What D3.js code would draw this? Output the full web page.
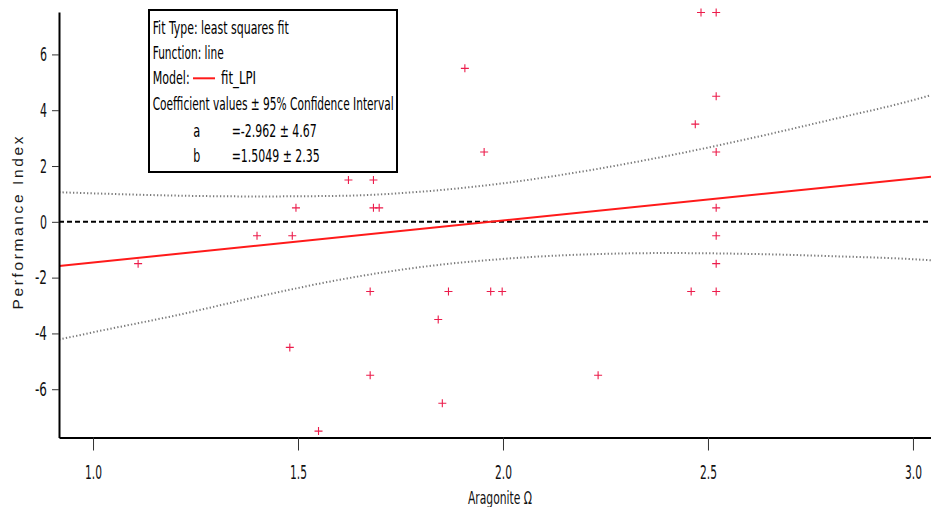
<!DOCTYPE html>
<html>
<head>
<meta charset="utf-8">
<script src="https://cdn.jsdelivr.net/npm/d3@7/dist/d3.min.js"></script>
<style>
  html, body { margin: 0; padding: 0; background: #fff; }
  svg { display: block; }
  .narrow { font-family: "Liberation Sans Narrow", "DejaVu Sans Condensed", "Arial Narrow", "Liberation Sans", sans-serif; }
</style>
</head>
<body>
<svg id="chart" width="931" height="507"></svg>
<script>
// Observations: aragonite saturation state vs. performance index
const aragonite = [1.11, 1.40, 1.486, 1.495, 1.48, 1.55, 1.623, 1.684, 1.684, 1.698,
                   1.676, 1.676, 1.842, 1.852, 1.867, 1.907, 1.954, 1.970, 1.998, 2.232,
                   2.459, 2.469, 2.483, 2.52, 2.52, 2.52, 2.52, 2.52, 2.52, 2.52];
const performance = [-1.5, -0.5, -0.5, 0.5, -4.5, -7.5, 1.5, 1.5, 0.5, 0.5,
                     -2.5, -5.5, -3.5, -6.5, -2.5, 5.5, 2.5, -2.5, -2.5, -5.5,
                     -2.5, 3.5, 7.5, 7.5, 4.5, 2.5, 0.5, -0.5, -1.5, -2.5];

// Least squares fit coefficients (y = a + b·x)
const coefA = -2.962;
const coefB = 1.5049;

// 95% confidence band of the fit
const bandX     = [0.917, 1.0, 1.2, 1.4, 1.6, 1.8, 2.0, 2.2, 2.4, 2.6, 2.8, 3.0, 3.044];
const bandUpper = [1.06, 1.02, 0.94, 0.91, 0.93, 1.08, 1.38, 1.82, 2.36, 2.98, 3.66, 4.36, 4.54];
const bandLower = [-4.22, -3.96, -3.36, -2.69, -2.08, -1.62, -1.33, -1.17, -1.12, -1.15, -1.23, -1.34, -1.38];

// Axis ticks
const xTicks = [1.0, 1.5, 2.0, 2.5, 3.0];
const yTicks = [-6, -4, -2, 0, 2, 4, 6];

// Legend text
const legendLines = ["Fit Type: least squares fit", "Function: line", "Model:",
                     "Coefficient values \u00B1 95% Confidence Interval"];
const modelName = "fit_LPI";
const coefNames = ["a", "b"];
const coefCI = [4.67, 2.35];

const svg = d3.select("#chart");
const plotLeft = 59, plotRight = 931, plotTop = 12, plotBottom = 437.5;

const x = d3.scaleLinear().domain([0.917, 3.044]).range([plotLeft, plotRight]);
const y = d3.scaleLinear().domain([-7.73, 7.52]).range([plotBottom, plotTop]);

svg.append("defs").append("clipPath").attr("id", "plot")
  .append("rect").attr("x", plotLeft).attr("y", plotTop - 8)
  .attr("width", plotRight - plotLeft).attr("height", plotBottom - plotTop + 8);

const plot = svg.append("g").attr("clip-path", "url(#plot)");

// zero reference line
plot.append("line")
  .attr("x1", x(x.domain()[0])).attr("x2", x(x.domain()[1]))
  .attr("y1", y(0)).attr("y2", y(0))
  .attr("stroke", "#000").attr("stroke-width", 2)
  .attr("stroke-dasharray", "5,3");

// confidence band (dotted)
const bandLine = d3.line().curve(d3.curveMonotoneX);
[bandUpper, bandLower].forEach(vals => {
  plot.append("path")
    .attr("d", bandLine(bandX.map((v, i) => [x(v), y(vals[i])])))
    .attr("fill", "none")
    .attr("stroke", "#7a7a7a")
    .attr("stroke-width", 2)
    .attr("stroke-dasharray", "1.3,2.2");
});

// fit line
const [x0, x1] = x.domain();
plot.append("line")
  .attr("x1", x(x0)).attr("y1", y(coefA + coefB * x0))
  .attr("x2", x(x1)).attr("y2", y(coefA + coefB * x1))
  .attr("stroke", "#ff1a1a").attr("stroke-width", 2);

// data markers
svg.append("g").selectAll("path")
  .data(aragonite.map((v, i) => [v, performance[i]]))
  .join("path")
  .attr("transform", d => `translate(${x(d[0])},${y(d[1])})`)
  .attr("d", "M-4,0H4M0,-4V4")
  .attr("stroke", "#ec1c4b").attr("stroke-width", 1.1).attr("fill", "none");

// axes
const xAxis = svg.append("g").attr("transform", `translate(0,${plotBottom})`)
  .call(d3.axisBottom(x).tickValues(xTicks).tickFormat(d3.format(".1f"))
        .tickSizeInner(13).tickSizeOuter(0).tickPadding(14));
const yAxis = svg.append("g").attr("transform", `translate(${plotLeft},0)`)
  .call(d3.axisLeft(y).tickValues(yTicks).tickFormat(d => d < 0 ? "-" + Math.abs(d) : String(d))
        .tickSizeInner(7).tickSizeOuter(0).tickPadding(5));

[xAxis, yAxis].forEach(g => {
  g.select(".domain").attr("stroke", "#000").attr("stroke-width", 2);
  g.selectAll(".tick line").attr("stroke", "#333").attr("stroke-width", 1);
});
xAxis.selectAll(".tick text")
  .attr("class", "narrow").attr("font-size", 20).attr("fill", "#111")
  .attr("textLength", 17).attr("lengthAdjust", "spacingAndGlyphs");
yAxis.selectAll(".tick text")
  .attr("class", "narrow").attr("font-size", 19.5).attr("fill", "#111")
  .attr("textLength", d => d < 0 ? 12 : 7).attr("lengthAdjust", "spacingAndGlyphs");

// axis titles
svg.append("text").attr("class", "narrow")
  .attr("x", 500).attr("y", 504).attr("text-anchor", "middle")
  .attr("font-size", 18).attr("fill", "#111")
  .attr("textLength", 64).attr("lengthAdjust", "spacingAndGlyphs")
  .text("Aragonite \u03A9");

svg.append("text")
  .attr("transform", "translate(22.5,223) rotate(-90)")
  .attr("text-anchor", "middle")
  .attr("font-family", "'Liberation Sans', Arial, sans-serif")
  .attr("font-size", 15.5).attr("fill", "#1a1a1a")
  .attr("textLength", 173).attr("lengthAdjust", "spacing")
  .text("Performance Index");

// legend box
const lg = svg.append("g");
lg.append("rect").attr("x", 149).attr("y", 10).attr("width", 248).attr("height", 162)
  .attr("fill", "#fff").attr("stroke", "#000").attr("stroke-width", 2);

const lineWidths = [136, 71, 37, 241];
const baselines = [34.3, 59.3, 84, 110, 136.7, 161.7];
legendLines.forEach((t, i) => {
  lg.append("text").attr("class", "narrow")
    .attr("x", 152.7).attr("y", baselines[i])
    .attr("font-size", 17.5).attr("fill", "#000")
    .attr("textLength", lineWidths[i]).attr("lengthAdjust", "spacingAndGlyphs")
    .text(t);
});
lg.append("line").attr("x1", 193).attr("x2", 215).attr("y1", 78.3).attr("y2", 78.3)
  .attr("stroke", "#ff1a1a").attr("stroke-width", 2);
lg.append("text").attr("class", "narrow")
  .attr("x", 221).attr("y", baselines[2]).attr("font-size", 17.5)
  .attr("textLength", 35).attr("lengthAdjust", "spacingAndGlyphs")
  .text(modelName);

const coefVals = [coefA.toFixed(3), coefB.toFixed(4)];
const coefWidths = [85, 88];
coefNames.forEach((n, i) => {
  lg.append("text").attr("class", "narrow")
    .attr("x", 193.3).attr("y", baselines[4 + i]).attr("font-size", 17.5)
    .attr("textLength", 7).attr("lengthAdjust", "spacingAndGlyphs")
    .text(n);
  lg.append("text").attr("class", "narrow")
    .attr("x", 231.7).attr("y", baselines[4 + i]).attr("font-size", 17.5)
    .attr("textLength", coefWidths[i]).attr("lengthAdjust", "spacingAndGlyphs")
    .text("=" + coefVals[i] + " \u00B1 " + coefCI[i]);
});
</script>
</body>
</html>
